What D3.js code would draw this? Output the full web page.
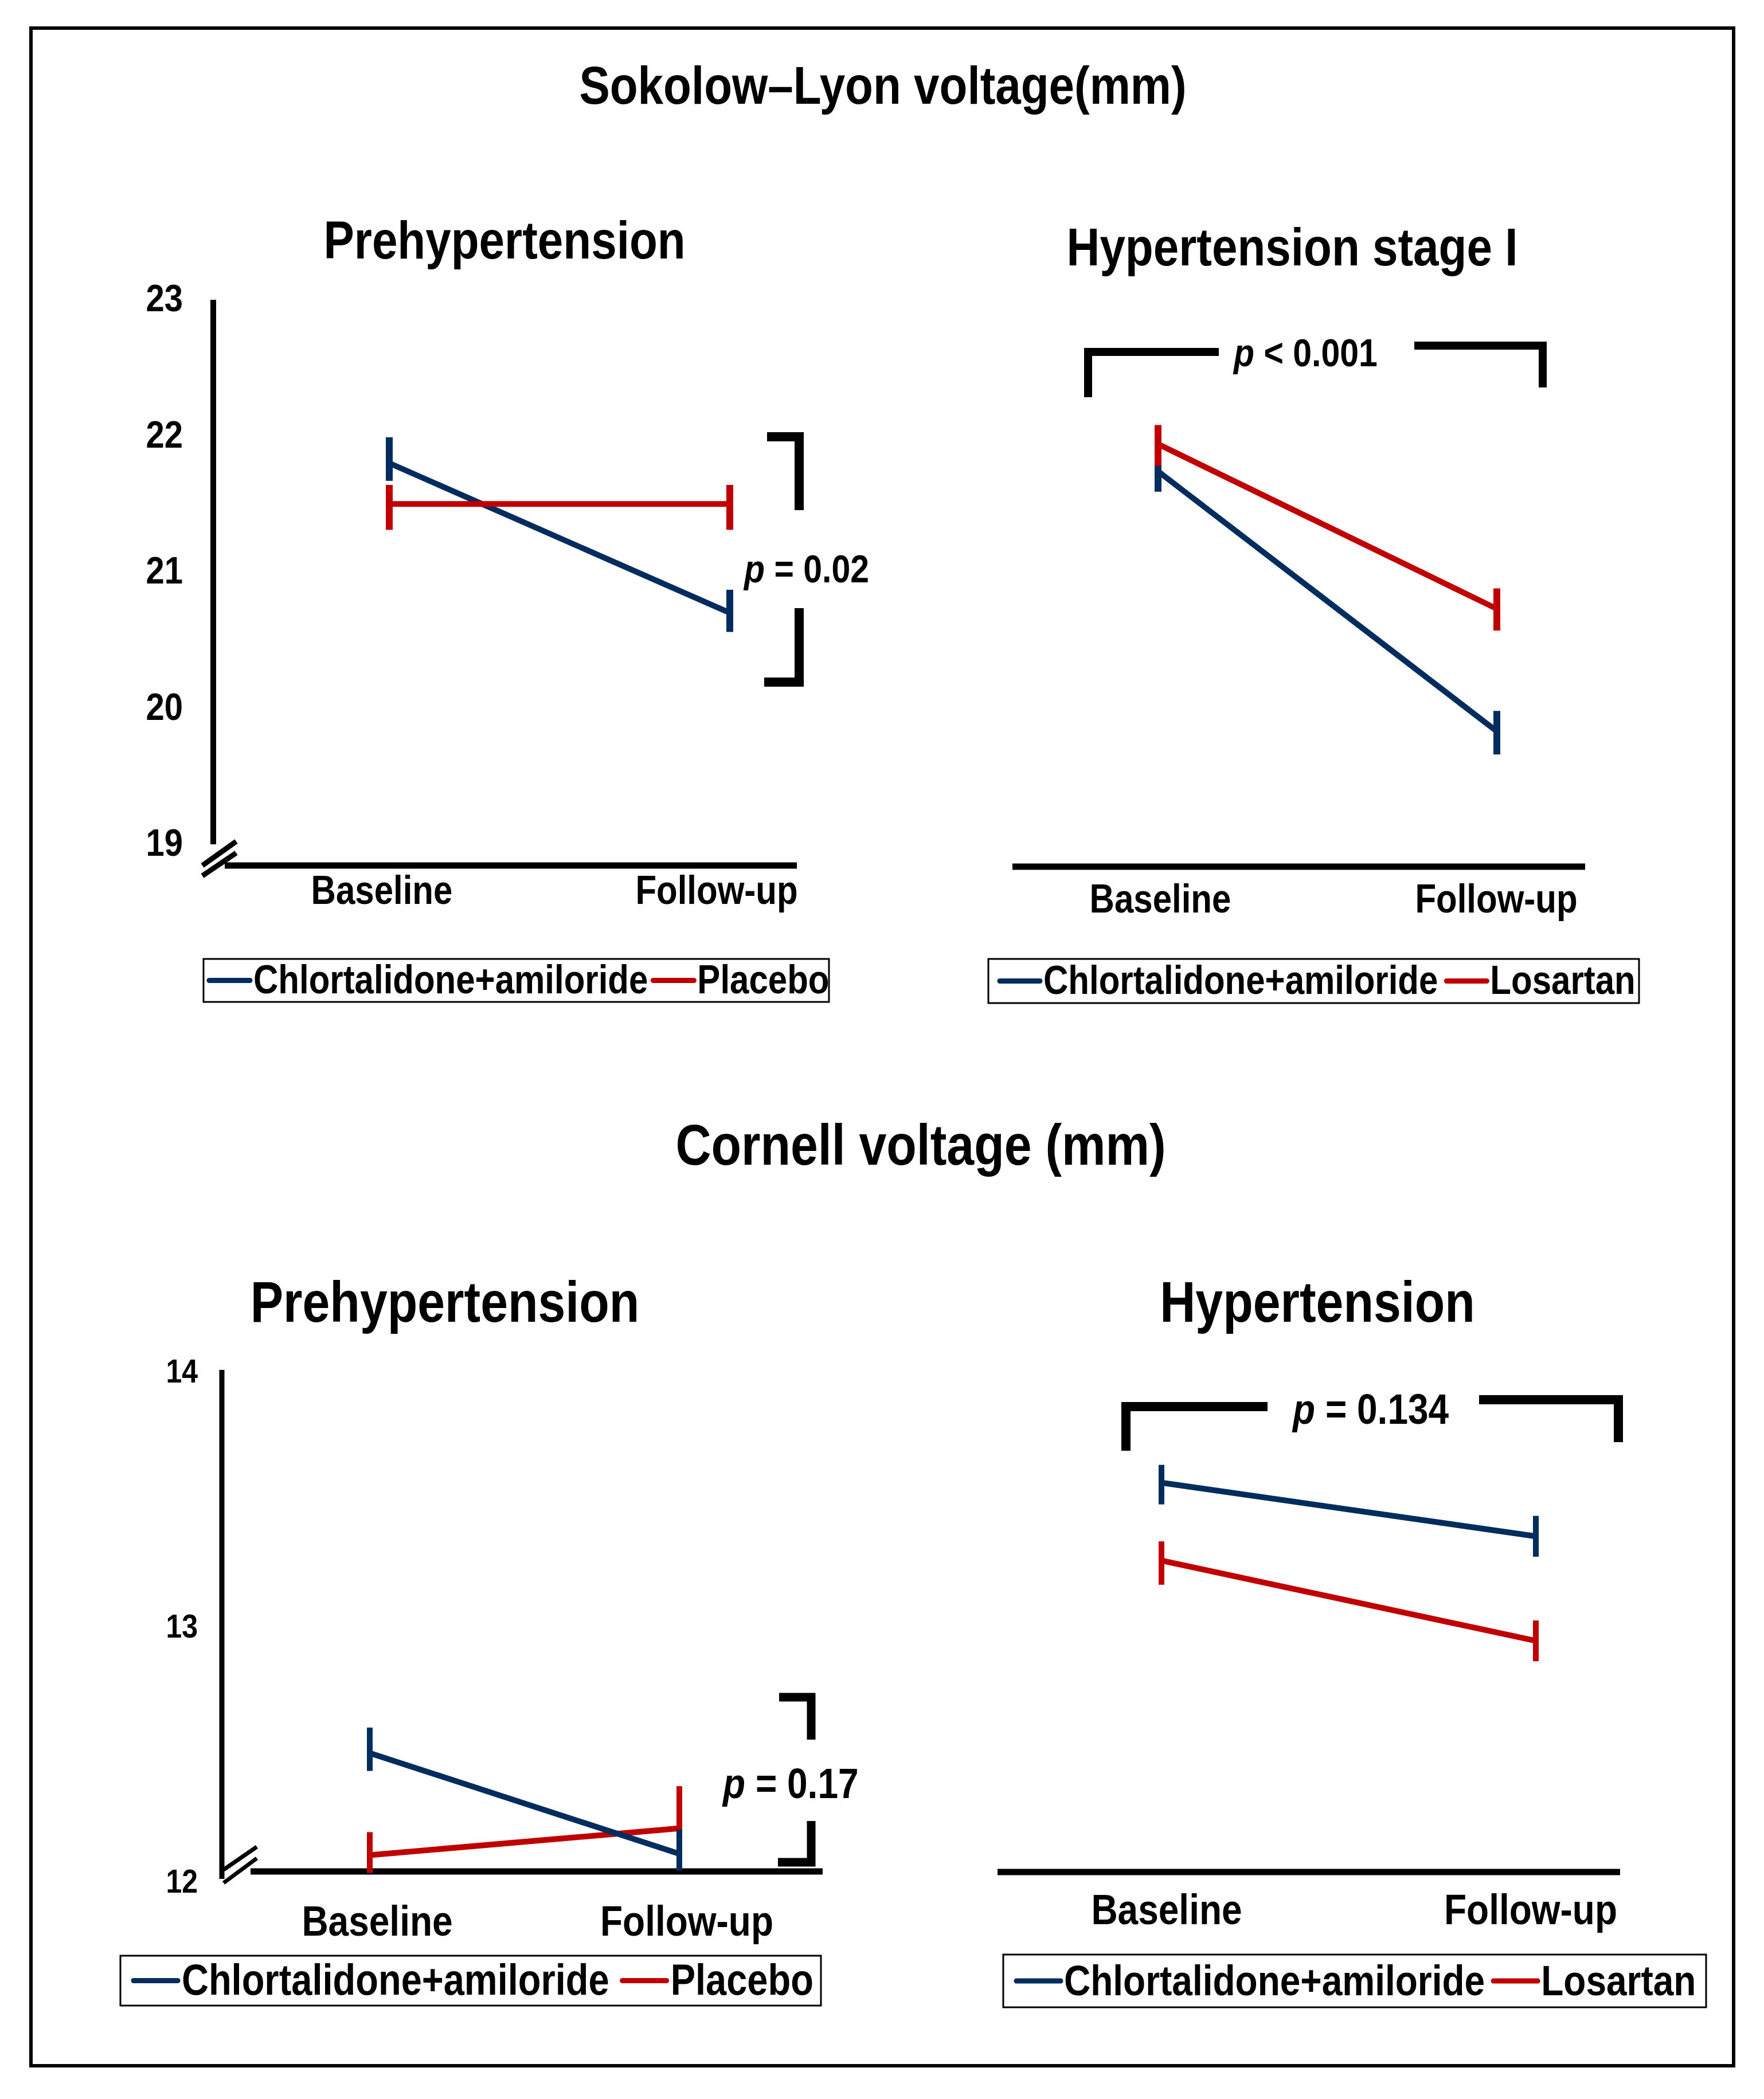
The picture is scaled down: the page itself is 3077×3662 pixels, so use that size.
<!DOCTYPE html>
<html>
<head>
<meta charset="utf-8">
<script src="https://cdn.jsdelivr.net/npm/d3@7"></script>
<style>
body { margin: 0; background: #fff; }
svg text { font-family: "Liberation Sans", Arial, sans-serif; font-weight: bold; fill: #000; }
</style>
</head>
<body>
<svg id="chart" width="3077" height="3662"></svg>
<script>
"use strict";

// ---- data ----
var categories = ["Baseline", "Follow-up"];
var legendPre = ["Chlortalidone+amiloride", "Placebo"];
var legendHtn = ["Chlortalidone+amiloride", "Losartan"];

var sokolowTicks = [19, 20, 21, 22, 23];
var cornellTicks = [12, 13, 14];

// Sokolow-Lyon, prehypertension
var slPreChlor = [21.80, 20.70];
var slPreChlorLow = [21.67, 20.56];
var slPreChlorHigh = [21.99, 20.87];
var slPrePlacebo = [21.50, 21.50];
var slPrePlaceboLow = [21.31, 21.31];
var slPrePlaceboHigh = [21.64, 21.64];

// Sokolow-Lyon, hypertension stage I
var slHtnChlor = [21.74, 19.83];
var slHtnChlorLow = [21.59, 19.66];
var slHtnChlorHigh = [21.89, 19.98];
var slHtnLosartan = [21.94, 20.73];
var slHtnLosartanLow = [21.78, 20.57];
var slHtnLosartanHigh = [22.08, 20.88];

// Cornell, prehypertension
var cvPreChlor = [12.50, 12.105];
var cvPreChlorLow = [12.43, 12.04];
var cvPreChlorHigh = [12.60, 12.20];
var cvPrePlacebo = [12.10, 12.205];
var cvPrePlaceboLow = [12.03, 12.04];
var cvPrePlaceboHigh = [12.19, 12.37];

// Cornell, hypertension
var cvHtnChlor = [13.56, 13.35];
var cvHtnChlorLow = [13.475, 13.27];
var cvHtnChlorHigh = [13.63, 13.43];
var cvHtnLosartan = [13.255, 12.94];
var cvHtnLosartanLow = [13.16, 12.86];
var cvHtnLosartanHigh = [13.33, 13.02];

var pTexts = ["= 0.02", "< 0.001", "= 0.17", "= 0.134"];

var BLUE = "#002d5e";
var RED = "#c00000";
var STRETCH = 1.16;   // the figure's text is a little tall for its width

var svg = d3.select("#chart");

function addText(g, str, x, y, size, anchor) {
	return g.append("text")
		.attr("transform", "translate(" + x + "," + y + ") scale(1," + STRETCH + ")")
		.attr("font-size", size)
		.attr("text-anchor", anchor || "start")
		.text(str);
}

// outer frame
svg.append("rect")
	.attr("x", 54).attr("y", 49)
	.attr("width", 2970).attr("height", 3555)
	.attr("fill", "none").attr("stroke", "#000").attr("stroke-width", 6);

addText(svg, "Sokolow\u2013Lyon voltage(mm)", 1540, 181, 80, "middle");
addText(svg, "Cornell voltage (mm)", 1606, 2032, 86, "middle");

var panels = [
	{
		title: "Prehypertension", titleX: 880, titleY: 451, titleSize: 80,
		xRange: [679, 1273], yDomain: [19, 23], yRange: [1473, 523],
		yAxis: { x: 372, top: 523, bottom: 1473, width: 10, ticks: sokolowTicks, size: 58, right: 319, dy: -4 },
		xAxis: { y: 1510, x0: 392, x1: 1390, width: 11 },
		breakMarks: [[353, 1510, 412, 1468], [353, 1528, 412, 1488]], breakWidth: 9,
		labelY: 1577, labelShift: [-13, -23], labelSize: 60,
		series: [
			{ v: slPreChlor, lo: slPreChlorLow, hi: slPreChlorHigh, color: BLUE },
			{ v: slPrePlacebo, lo: slPrePlaceboLow, hi: slPrePlaceboHigh, color: RED }
		],
		lineWidth: 10, barWidth: 12,
		brackets: ["M1338,762 H1394 V890", "M1394,1061 V1190 H1333"], bracketWidth: 16,
		pText: pTexts[0], pX: 1298, pY: 1016, pSize: 59,
		legend: { names: legendPre, x: 355, y: 1673, w: 1091, h: 75, size: 60, line: 71, pad: 10, gapLine: 6, gapText: 9 }
	},
	{
		title: "Hypertension stage I", titleX: 2254, titleY: 463, titleSize: 80,
		xRange: [2020, 2611], yDomain: [19, 23], yRange: [1473, 523],
		yAxis: null,
		xAxis: { y: 1512, x0: 1766, x1: 2765, width: 11 },
		breakMarks: [], breakWidth: 0,
		labelY: 1592, labelShift: [4, -1], labelSize: 60,
		series: [
			{ v: slHtnChlor, lo: slHtnChlorLow, hi: slHtnChlorHigh, color: BLUE },
			{ v: slHtnLosartan, lo: slHtnLosartanLow, hi: slHtnLosartanHigh, color: RED }
		],
		lineWidth: 10, barWidth: 12,
		brackets: ["M1898,693 V614 H2126", "M2467,603 H2691 V676"], bracketWidth: 14,
		pText: pTexts[1], pX: 2152, pY: 639, pSize: 59,
		legend: { names: legendHtn, x: 1724, y: 1673, w: 1135, h: 77, size: 60, line: 70, pad: 20, gapLine: 6, gapText: 15 }
	},
	{
		title: "Prehypertension", titleX: 776, titleY: 2306, titleSize: 86,
		xRange: [645, 1185], yDomain: [12, 14], yRange: [3281, 2391],
		yAxis: { x: 387, top: 2390, bottom: 3278, width: 9, ticks: cornellTicks, size: 50, right: 345, dy: 0 },
		xAxis: { y: 3265, x0: 437, x1: 1435, width: 11 },
		breakMarks: [[390, 3262, 448, 3222], [390, 3285, 448, 3242]], breakWidth: 7,
		labelY: 3377, labelShift: [13, 13], labelSize: 64,
		series: [
			{ v: cvPrePlacebo, lo: cvPrePlaceboLow, hi: cvPrePlaceboHigh, color: RED },
			{ v: cvPreChlor, lo: cvPreChlorLow, hi: cvPreChlorHigh, color: BLUE }
		],
		lineWidth: 10, barWidth: 10,
		brackets: ["M1359,2961 H1415 V3035", "M1415,3177 V3249 H1357"], bracketWidth: 15,
		pText: pTexts[2], pX: 1261, pY: 3137, pSize: 64,
		legend: { names: legendPre, x: 210, y: 3412, w: 1222, h: 87, size: 65, line: 77, pad: 23, gapLine: 7, gapText: 23 }
	},
	{
		title: "Hypertension", titleX: 2298, titleY: 2306, titleSize: 86,
		xRange: [2026, 2679], yDomain: [12, 14], yRange: [3281, 2391],
		yAxis: null,
		xAxis: { y: 3266, x0: 1740, x1: 2826, width: 11 },
		breakMarks: [], breakWidth: 0,
		labelY: 3357, labelShift: [9, -9], labelSize: 64,
		series: [
			{ v: cvHtnChlor, lo: cvHtnChlorLow, hi: cvHtnChlorHigh, color: BLUE },
			{ v: cvHtnLosartan, lo: cvHtnLosartanLow, hi: cvHtnLosartanHigh, color: RED }
		],
		lineWidth: 10, barWidth: 10,
		brackets: ["M1964,2531 V2454 H2211", "M2580,2442 H2823 V2516"], bracketWidth: 16,
		pText: pTexts[3], pX: 2255, pY: 2484, pSize: 64,
		legend: { names: legendHtn, x: 1750, y: 3410, w: 1226, h: 92, size: 64, line: 77, pad: 23, gapLine: 6, gapText: 15 }
	}
];

function drawLegend(g, lg) {
	var colors = [BLUE, RED];
	g.append("rect")
		.attr("x", lg.x).attr("y", lg.y).attr("width", lg.w).attr("height", lg.h)
		.attr("fill", "#fff").attr("stroke", "#000").attr("stroke-width", 3);
	var cy = lg.y + lg.h / 2;
	var cx = lg.x + lg.pad;
	lg.names.forEach(function(name, i) {
		g.append("line")
			.attr("x1", cx).attr("x2", cx + lg.line)
			.attr("y1", cy).attr("y2", cy)
			.attr("stroke", colors[i]).attr("stroke-width", 9).attr("stroke-linecap", "round");
		cx += lg.line + lg.gapLine;
		var t = addText(g, name, cx, cy + 0.716 * lg.size * STRETCH / 2 - 2, lg.size);
		cx += t.node().getComputedTextLength() + lg.gapText;
	});
}

function drawPanel(p) {
	var g = svg.append("g");
	var x = d3.scalePoint().domain(categories).range(p.xRange);
	var y = d3.scaleLinear().domain(p.yDomain).range(p.yRange);

	addText(g, p.title, p.titleX, p.titleY, p.titleSize, "middle");

	if (p.yAxis) {
		var ya = p.yAxis;
		g.append("line")
			.attr("x1", ya.x).attr("x2", ya.x).attr("y1", ya.top).attr("y2", ya.bottom)
			.attr("stroke", "#000").attr("stroke-width", ya.width);
		ya.ticks.forEach(function(t) {
			addText(g, String(t), ya.right, y(t) + ya.dy + 0.716 * ya.size * STRETCH / 2, ya.size, "end");
		});
	}

	g.append("line")
		.attr("x1", p.xAxis.x0).attr("x2", p.xAxis.x1)
		.attr("y1", p.xAxis.y).attr("y2", p.xAxis.y)
		.attr("stroke", "#000").attr("stroke-width", p.xAxis.width);

	p.breakMarks.forEach(function(b) {
		g.append("line")
			.attr("x1", b[0]).attr("y1", b[1]).attr("x2", b[2]).attr("y2", b[3])
			.attr("stroke", "#000").attr("stroke-width", p.breakWidth);
	});

	categories.forEach(function(c, i) {
		addText(g, c, x(c) + p.labelShift[i], p.labelY, p.labelSize, "middle");
	});

	var line = d3.line()
		.x(function(d, i) { return x(categories[i]); })
		.y(function(d) { return y(d); });

	p.series.forEach(function(s) {
		g.append("path")
			.attr("d", line(s.v))
			.attr("fill", "none").attr("stroke", s.color)
			.attr("stroke-width", p.lineWidth).attr("stroke-linecap", "round");
		categories.forEach(function(c, i) {
			g.append("line")
				.attr("x1", x(c)).attr("x2", x(c))
				.attr("y1", y(s.lo[i])).attr("y2", y(s.hi[i]))
				.attr("stroke", s.color).attr("stroke-width", p.barWidth);
		});
	});

	p.brackets.forEach(function(d) {
		g.append("path").attr("d", d)
			.attr("fill", "none").attr("stroke", "#000")
			.attr("stroke-width", p.bracketWidth).attr("stroke-linejoin", "miter");
	});

	var pt = g.append("text")
		.attr("transform", "translate(" + p.pX + "," + p.pY + ") scale(1," + STRETCH + ")")
		.attr("font-size", p.pSize);
	pt.append("tspan").attr("font-style", "italic").text("p");
	pt.append("tspan").text(" " + p.pText);

	drawLegend(g, p.legend);
}

panels.forEach(drawPanel);
</script>
</body>
</html>
